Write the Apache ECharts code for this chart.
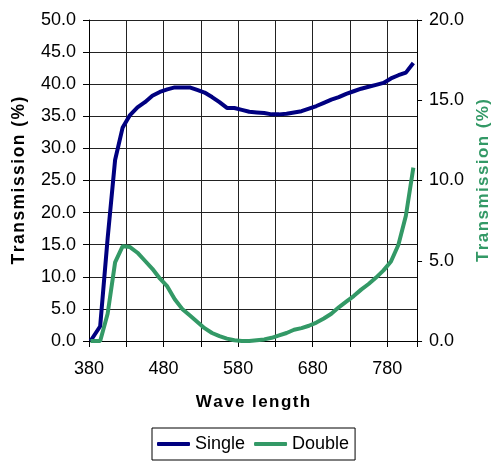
<!DOCTYPE html>
<html>
<head>
<meta charset="utf-8">
<script src="https://cdn.jsdelivr.net/npm/echarts@6/dist/echarts.min.js"></script>
<style>html,body{margin:0;padding:0;background:#fff;}#c{width:500px;height:461px;}</style>
</head>
<body>
<div id="c"></div>
<script>
var wavelengths = [382, 395, 405, 415, 425, 435, 445, 455, 465, 475, 485, 495, 505, 515, 525, 535, 545, 555, 565, 575, 585, 595, 605, 615, 625, 635, 645, 655, 665, 675, 685, 695, 705, 715, 725, 735, 745, 755, 765, 775, 785, 795, 805, 815];
var singleValues = [0, 2.3, 16, 28.2, 33.2, 35.2, 36.4, 37.2, 38.2, 38.8, 39.2, 39.5, 39.5, 39.5, 39.1, 38.7, 38.0, 37.2, 36.3, 36.3, 36.0, 35.7, 35.6, 35.5, 35.3, 35.3, 35.4, 35.6, 35.8, 36.2, 36.6, 37.1, 37.6, 38.0, 38.5, 38.9, 39.3, 39.6, 39.9, 40.2, 40.9, 41.4, 41.8, 43.3];
var doubleValues = [0, 0, 1.7, 4.9, 5.9, 5.85, 5.5, 5.0, 4.5, 3.9, 3.4, 2.6, 2.0, 1.6, 1.2, 0.8, 0.5, 0.3, 0.15, 0.05, 0, 0, 0.05, 0.1, 0.2, 0.35, 0.5, 0.7, 0.8, 0.95, 1.15, 1.4, 1.7, 2.1, 2.45, 2.8, 3.2, 3.55, 3.95, 4.4, 4.95, 6.0, 7.8, 10.8];
var seriesNames = ['Single', 'Double'];
var xTitle = 'Wave length';
var yTitle = 'Transmission (%)';

function spaced(s, ch) { return s.split('').join(ch); }
function pairs(xs, ys) { return xs.map(function (x, i) { return [x, ys[i]]; }); }

var FONT = 'Liberation Sans, Arial, sans-serif';
var chart = echarts.init(document.getElementById('c'), null, {renderer: 'canvas'});
chart.setOption({
  animation: false,
  backgroundColor: '#fff',
  textStyle: {fontFamily: FONT},
  grid: {left: 89, right: 80, top: 20, bottom: 120, containLabel: false},
  legend: {
    data: seriesNames,
    left: 152, top: 428,
    orient: 'horizontal',
    icon: 'roundRect',
    borderColor: '#000', borderWidth: 1, borderRadius: 0,
    padding: [7, 6, 7, 5],
    itemWidth: 33, itemHeight: 4, itemGap: 9,
    textStyle: {fontFamily: FONT, fontSize: 18, color: '#000'}
  },
  xAxis: {
    type: 'value', min: 380, max: 820, interval: 50,
    name: spaced(xTitle, '\u200A'), nameLocation: 'middle', nameGap: 53,
    nameTextStyle: {fontFamily: FONT, fontSize: 17, fontWeight: 'bold', color: '#000'},
    axisLine: {show: true, lineStyle: {color: '#000', width: 1}},
    axisTick: {show: true, length: 6, lineStyle: {color: '#000'}},
    axisLabel: {
      margin: 19, fontSize: 18, color: '#000', fontFamily: FONT,
      formatter: function (v) { return ((v - 380) % 100 === 0) ? String(v) : ''; }
    },
    splitLine: {show: true, lineStyle: {color: '#222', width: 1}}
  },
  yAxis: [{
    type: 'value', min: 0, max: 50, interval: 5, position: 'left',
    name: spaced(yTitle, '\u200A'), nameLocation: 'middle', nameGap: 61, nameRotate: 90,
    nameTextStyle: {fontFamily: FONT, fontSize: 17.5, fontWeight: 'bold', color: '#000', padding: [0, 0, 0, 0]},
    axisLine: {show: true, lineStyle: {color: '#000', width: 1}},
    axisTick: {show: true, length: 6, lineStyle: {color: '#000'}},
    axisLabel: {margin: 13, fontSize: 18, color: '#000', fontFamily: FONT,
      formatter: function (v) { return v.toFixed(1); }},
    splitLine: {show: true, lineStyle: {color: '#222', width: 1}}
  }, {
    type: 'value', min: 0, max: 20, interval: 5, position: 'right',
    name: spaced(yTitle, '\u200A'), nameLocation: 'middle', nameGap: 56, nameRotate: 90,
    nameTextStyle: {fontFamily: FONT, fontSize: 17, fontWeight: 'bold', color: '#339966'},
    axisLine: {show: true, lineStyle: {color: '#000', width: 1}},
    axisTick: {show: true, length: 5, lineStyle: {color: '#000'}},
    axisLabel: {margin: 12, fontSize: 18, color: '#000', fontFamily: FONT,
      formatter: function (v) { return v.toFixed(1); }},
    splitLine: {show: false}
  }],
  series: [{
    name: seriesNames[0], type: 'line', yAxisIndex: 0,
    data: pairs(wavelengths, singleValues),
    symbol: 'none', smooth: false,
    lineStyle: {color: '#000080', width: 4},
    itemStyle: {color: '#000080'}
  }, {
    name: seriesNames[1], type: 'line', yAxisIndex: 1,
    data: pairs(wavelengths, doubleValues),
    symbol: 'none', smooth: false,
    lineStyle: {color: '#339966', width: 4},
    itemStyle: {color: '#339966'}
  }]
});
</script>
</body>
</html>
